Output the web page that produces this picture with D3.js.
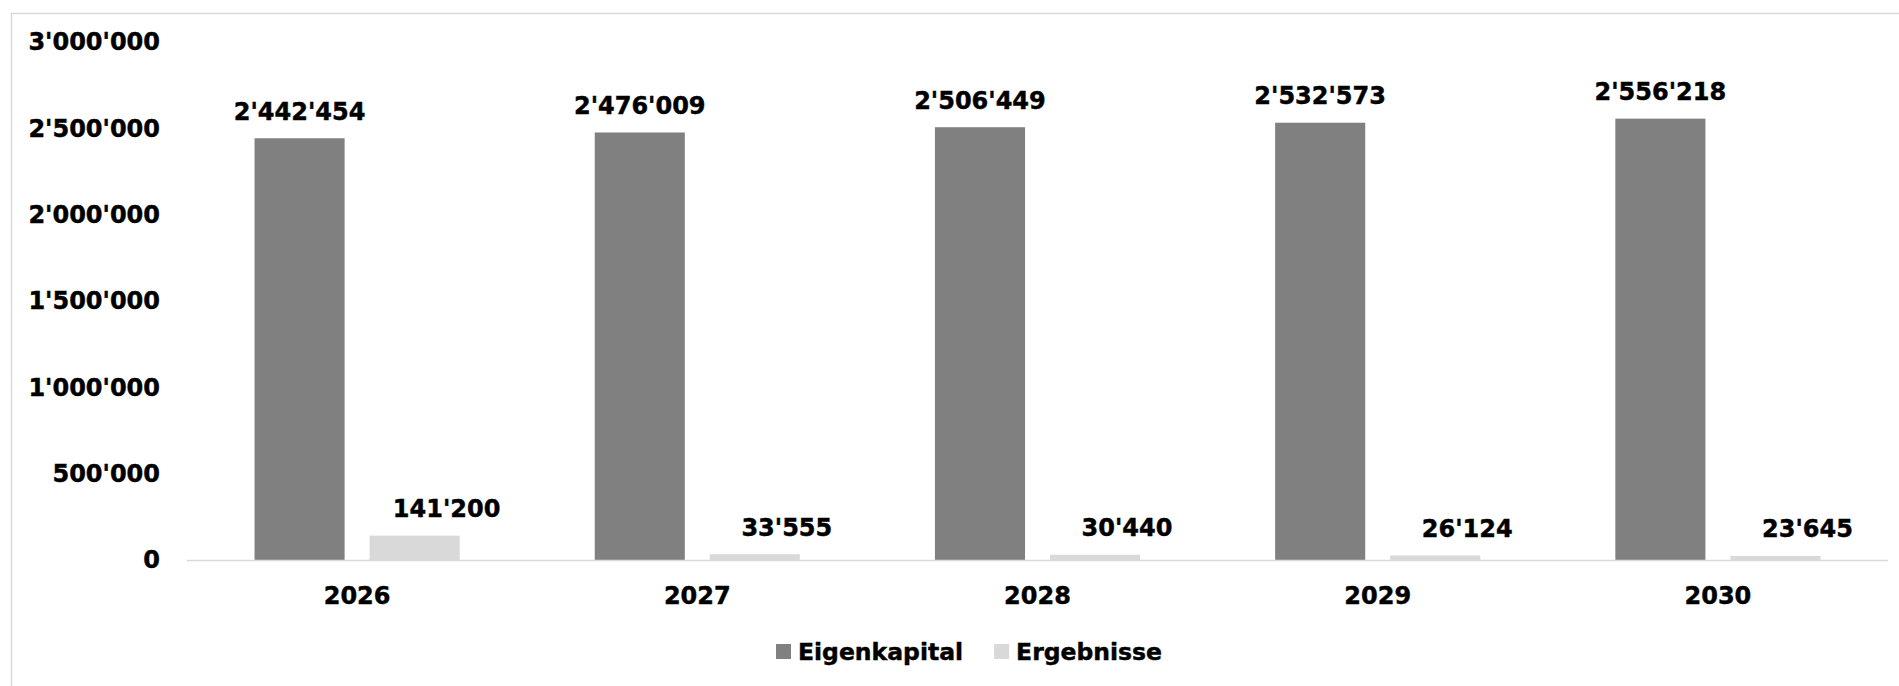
<!DOCTYPE html>
<html lang="de">
<head>
    <meta charset="UTF-8">
    <title>Eigenkapital und Ergebnisse</title>
    <script src="https://cdnjs.cloudflare.com/ajax/libs/d3/7.8.5/d3.min.js"></script>
    <style>
        html, body { margin: 0; padding: 0; background: #fff; }
        svg { display: block; }
        text { stroke: #000; stroke-width: 0.45px; }
    </style>
</head>
<body>
<script>
    // Daten
    const years = ["2026", "2027", "2028", "2029", "2030"];
    const seriesNames = ["Eigenkapital", "Ergebnisse"];
    const eigenkapital = [2442454, 2476009, 2506449, 2532573, 2556218];
    const ergebnisse = [141200, 33555, 30440, 26124, 23645];
    const yTicks = [0, 500000, 1000000, 1500000, 2000000, 2500000, 3000000];
    const colors = ["#808080", "#d9d9d9"];

    const width = 1899, height = 686;
    const font = "'DejaVu Sans', Verdana, sans-serif";

    // Zahlen im Schweizer Format 2'442'454
    const fmt = v => d3.format(",")(v).replace(/,/g, "'");

    const rows = years.map((y, i) => ({year: y, values: [eigenkapital[i], ergebnisse[i]]}));

    const svg = d3.select("body").append("svg")
        .attr("width", width)
        .attr("height", height)
        .style("font-family", font)
        .style("font-weight", "bold");

    // Rahmen des Diagrammbereichs
    svg.append("rect")
        .attr("x", 11.5).attr("y", 13.5)
        .attr("width", width + 20).attr("height", height + 20)
        .attr("fill", "none")
        .attr("stroke", "#d9d9d9")
        .attr("stroke-width", 1.5);

    const x0 = d3.scaleBand().domain(years).range([187, 1888]);
    const x1 = d3.scaleBand().domain(seriesNames)
        .range([0, x0.bandwidth()])
        .paddingInner(0.217)
        .paddingOuter(0.587);
    const y = d3.scaleLinear().domain([0, 3000000]).range([560, 42]);

    // Y-Achse (nur Beschriftung)
    svg.append("g")
        .selectAll("text")
        .data(yTicks)
        .join("text")
        .attr("x", 160)
        .attr("y", d => y(d))
        .attr("dy", "0.35em")
        .attr("text-anchor", "end")
        .attr("font-size", 24)
        .text(fmt);

    // Balken
    const groups = svg.append("g")
        .selectAll("g")
        .data(rows)
        .join("g")
        .attr("transform", d => `translate(${x0(d.year)},0)`);

    groups.selectAll("rect")
        .data(d => d.values.map((v, i) => ({name: seriesNames[i], value: v, i})))
        .join("rect")
        .attr("x", d => x1(d.name))
        .attr("y", d => y(d.value))
        .attr("width", x1.bandwidth())
        .attr("height", d => y(0) - y(d.value))
        .attr("fill", d => colors[d.i]);

    // Datenbeschriftungen
    groups.selectAll("text")
        .data(d => d.values.map((v, i) => ({name: seriesNames[i], value: v, i})))
        .join("text")
        .attr("x", d => x1(d.name) + x1.bandwidth() / 2 + (d.i === 1 ? 32 : 0))
        .attr("y", d => y(d.value) - 27)
        .attr("dy", "0.35em")
        .attr("text-anchor", "middle")
        .attr("font-size", 24)
        .text(d => fmt(d.value));

    // X-Achse
    svg.append("line")
        .attr("x1", x0.range()[0]).attr("x2", x0.range()[1])
        .attr("y1", y(0) + 0.5).attr("y2", y(0) + 0.5)
        .attr("stroke", "#d9d9d9")
        .attr("stroke-width", 1.5);

    svg.append("g")
        .selectAll("text")
        .data(years)
        .join("text")
        .attr("x", d => x0(d) + x0.bandwidth() / 2)
        .attr("y", 596)
        .attr("dy", "0.35em")
        .attr("text-anchor", "middle")
        .attr("font-size", 24)
        .text(d => d);

    // Legende
    const legend = svg.append("g");
    let lx = 776;
    seriesNames.forEach((name, i) => {
        legend.append("rect")
            .attr("x", lx).attr("y", 644)
            .attr("width", 15).attr("height", 15)
            .attr("fill", colors[i]);
        const t = legend.append("text")
            .attr("x", lx + 22)
            .attr("y", 652)
            .attr("dy", "0.35em")
            .attr("font-size", 23.5)
            .text(name);
        lx = lx + 22 + t.node().getComputedTextLength() + 31;
    });
</script>
</body>
</html>
